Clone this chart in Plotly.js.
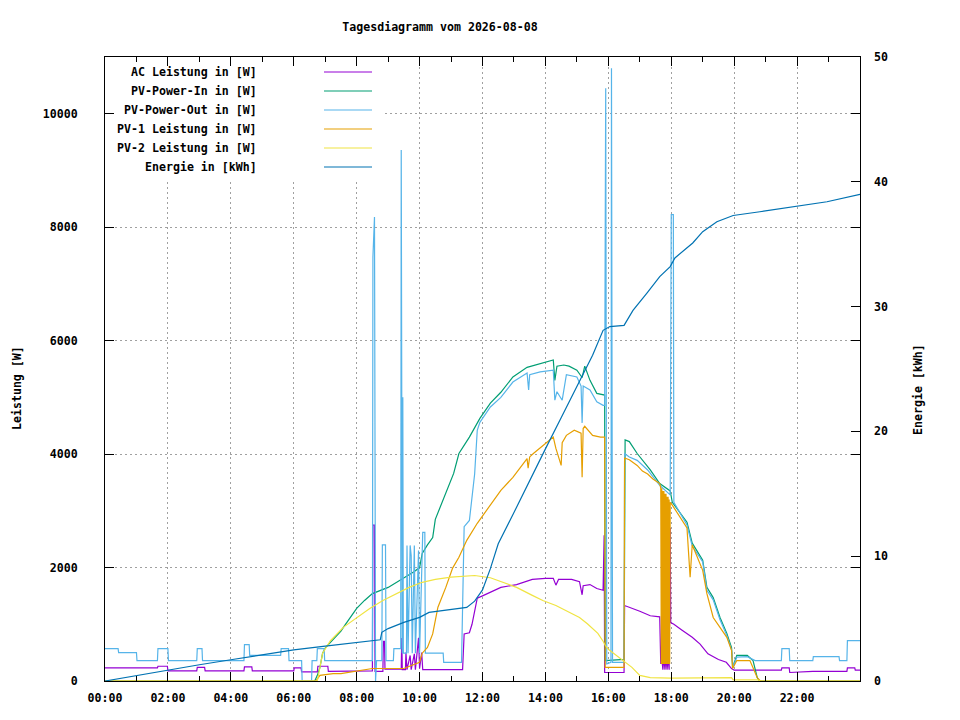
<!DOCTYPE html>
<html>
<head>
<meta charset="utf-8">
<script src="https://cdn.plot.ly/plotly-3.0.1.min.js"></script>
<style>
  html, body { margin: 0; padding: 0; background: #fff; }
  #chart { width: 960px; height: 720px; }
</style>
</head>
<body>
<div id="chart"></div>
<script>
const DAY = "2026-08-08";
const NEXT_DAY = "2026-08-09";

// [time, W]
const acPower = [
  ["00:00", 230], ["01:40", 230], ["01:41", 260], ["01:59", 260], ["02:00", 180],
  ["02:55", 180], ["02:56", 240], ["03:10", 240], ["03:11", 180], ["04:25", 180],
  ["04:26", 250], ["04:40", 250], ["04:41", 180], ["06:00", 180], ["06:01", 230],
  ["06:14", 230], ["06:15", 160], ["06:45", 160], ["06:46", 260], ["07:05", 260],
  ["07:06", 170], ["08:30", 180], ["08:31", 2750], ["08:34", 2750], ["08:35", 170],
  ["08:50", 170], ["08:51", 700], ["08:53", 700], ["08:54", 210], ["09:25", 210],
  ["09:26", 760], ["09:27", 200], ["09:33", 200], ["09:34", 500], ["09:36", 200],
  ["09:42", 450], ["09:44", 200], ["09:50", 480], ["09:52", 200], ["09:58", 760],
  ["10:00", 220], ["10:04", 500], ["10:06", 200], ["11:22", 200], ["11:25", 830],
  ["11:35", 850], ["11:40", 1000], ["11:45", 1240], ["11:50", 1460], ["12:00", 1500],
  ["12:15", 1560], ["12:35", 1650], ["13:05", 1700], ["13:35", 1790], ["14:00", 1810],
  ["14:15", 1810], ["14:20", 1690], ["14:25", 1790], ["14:50", 1790], ["15:05", 1750],
  ["15:10", 1520], ["15:12", 1680], ["15:25", 1700], ["15:38", 1630], ["15:50", 1600],
  ["15:52", 2570], ["15:53", 150], ["16:30", 150], ["16:31", 1330], ["16:40", 1300],
  ["17:00", 1230], ["17:20", 1150], ["17:38", 1130], ["17:40", 300], ["17:42", 400],
  ["17:44", 200], ["17:46", 400], ["17:48", 200], ["17:50", 400], ["17:52", 200],
  ["17:54", 400], ["17:56", 200], ["17:58", 2700], ["17:59", 1030], ["18:05", 1000],
  ["18:20", 900], ["18:40", 770], ["18:55", 650], ["19:10", 480], ["19:30", 380],
  ["19:45", 330], ["19:55", 220], ["20:00", 190], ["21:30", 190], ["21:31", 230],
  ["21:45", 230], ["21:46", 150], ["22:30", 170], ["23:35", 170], ["23:36", 230],
  ["23:50", 230], ["23:51", 190], ["24:00", 190]
];

const pvPowerIn = [
  ["00:00", 0], ["06:40", 0], ["06:45", 100], ["06:50", 240], ["06:55", 490],
  ["07:00", 580], ["07:10", 680], ["07:30", 880], ["07:35", 950], ["08:00", 1280],
  ["08:15", 1420], ["08:30", 1540], ["09:00", 1650], ["09:20", 1760], ["09:30", 1830],
  ["09:50", 1930], ["10:00", 2000], ["10:05", 2250], ["10:15", 2400], ["10:25", 2530],
  ["10:30", 2850], ["10:45", 3200], ["10:50", 3320], ["11:00", 3540], ["11:05", 3660],
  ["11:15", 4010], ["11:35", 4300], ["11:55", 4630], ["12:15", 4900], ["12:35", 5090],
  ["12:58", 5360], ["13:25", 5530], ["13:50", 5600], ["14:15", 5660], ["14:18", 5300],
  ["14:22", 5550], ["14:35", 5570], ["14:45", 5550], ["15:00", 5480], ["15:10", 5350],
  ["15:15", 5550], ["15:25", 5300], ["15:38", 5070], ["15:50", 5040], ["15:53", 5040],
  ["15:54", 360], ["16:30", 380], ["16:32", 4250], ["16:40", 4220], ["16:55", 4010],
  ["17:05", 3900], ["17:20", 3720], ["17:38", 3480], ["17:50", 3400], ["17:58", 3350],
  ["18:02", 3150], ["18:30", 2800], ["18:40", 2430], ["19:00", 2130], ["19:08", 1650],
  ["19:20", 1470], ["19:33", 1120], ["19:46", 840], ["19:55", 590], ["19:57", 240],
  ["20:05", 450], ["20:25", 450], ["20:36", 360], ["20:44", 60], ["20:48", 0],
  ["24:00", 0]
];

const pvPowerOut = [
  ["00:00", 570], ["00:25", 570], ["00:26", 500], ["01:00", 500], ["01:01", 360],
  ["01:40", 360], ["01:41", 570], ["02:00", 570], ["02:01", 360], ["02:55", 360],
  ["02:56", 570], ["03:05", 570], ["03:06", 360], ["04:25", 360], ["04:26", 640],
  ["04:35", 640], ["04:36", 450], ["05:35", 450], ["05:36", 570], ["05:50", 570],
  ["05:51", 360], ["06:15", 360], ["06:16", 0], ["06:34", 0], ["06:35", 360],
  ["06:44", 360], ["06:45", 570], ["06:58", 570], ["06:59", 360], ["08:30", 360],
  ["08:31", 7470], ["08:34", 8180], ["08:36", 0], ["08:38", 360], ["08:48", 360],
  ["08:49", 2400], ["08:55", 2400], ["08:56", 360], ["09:10", 360], ["09:11", 570],
  ["09:24", 570], ["09:25", 9360], ["09:27", 490], ["09:28", 5000], ["09:29", 490],
  ["09:35", 490], ["09:36", 2390], ["09:38", 490], ["09:42", 2390], ["09:44", 2210],
  ["09:46", 490], ["09:50", 2390], ["09:52", 490], ["09:58", 2300], ["10:00", 490],
  ["10:06", 2620], ["10:10", 2620], ["10:11", 490], ["10:45", 490], ["10:46", 330],
  ["11:20", 330], ["11:25", 2720], ["11:35", 2830], ["11:45", 3650], ["11:50", 4420],
  ["11:55", 4560], ["12:15", 4830], ["12:35", 5000], ["12:58", 5270], ["13:25", 5430],
  ["13:28", 5130], ["13:30", 5400], ["13:50", 5450], ["14:15", 5480], ["14:18", 4950],
  ["14:22", 5100], ["14:32", 4950], ["14:40", 5400], ["15:00", 5360], ["15:08", 5200],
  ["15:10", 4550], ["15:12", 5200], ["15:25", 5130], ["15:38", 4920], ["15:50", 4860],
  ["15:53", 4860], ["15:55", 10450], ["15:57", 300], ["16:05", 330], ["16:06", 10800],
  ["16:08", 330], ["16:30", 330], ["16:31", 4010], ["16:40", 3950], ["16:55", 3890],
  ["17:15", 3720], ["17:38", 3450], ["17:50", 3350], ["17:58", 3280], ["18:00", 8220],
  ["18:04", 8220], ["18:05", 3150], ["18:30", 2750], ["18:40", 2380], ["19:00", 2100],
  ["19:08", 1600], ["19:20", 1430], ["19:33", 1080], ["19:46", 800], ["19:55", 550],
  ["19:58", 240], ["20:05", 420], ["20:25", 430], ["20:40", 360], ["21:30", 360],
  ["21:31", 570], ["21:45", 570], ["21:46", 360], ["22:30", 360], ["22:31", 430],
  ["23:20", 430], ["23:21", 360], ["23:35", 360], ["23:36", 710], ["24:00", 710]
];

const pv1Power = [
  ["00:00", 0], ["06:42", 0], ["06:50", 100], ["07:15", 130], ["07:30", 130],
  ["08:00", 180], ["08:30", 220], ["09:30", 220], ["10:00", 330], ["10:05", 490],
  ["10:15", 590], ["10:25", 830], ["10:35", 1300], ["10:50", 1650], ["11:03", 1990],
  ["11:15", 2180], ["11:30", 2480], ["11:50", 2780], ["12:15", 3090], ["12:35", 3360],
  ["12:58", 3590], ["13:25", 3920], ["13:27", 3750], ["13:30", 3950], ["13:37", 4010],
  ["14:03", 4210], ["14:15", 4300], ["14:20", 4100], ["14:30", 3800], ["14:32", 4200],
  ["14:40", 4330], ["14:55", 4420], ["15:08", 4370], ["15:10", 3590], ["15:12", 4450],
  ["15:15", 4490], ["15:30", 4330], ["15:45", 4300], ["15:53", 4300], ["15:54", 240],
  ["16:30", 240], ["16:31", 3930], ["16:40", 3900], ["16:55", 3800], ["17:05", 3700],
  ["17:15", 3650], ["17:25", 3560], ["17:38", 3480], ["17:40", 3400], ["17:41", 300],
  ["17:42", 3400], ["17:43", 300], ["17:44", 3350], ["17:45", 300], ["17:46", 3350],
  ["17:47", 300], ["17:48", 3300], ["17:49", 300], ["17:50", 3300], ["17:51", 300],
  ["17:52", 3250], ["17:53", 300], ["17:54", 3250], ["17:55", 300], ["17:56", 3200],
  ["17:57", 300], ["17:58", 3150], ["18:02", 3100], ["18:30", 2700], ["18:36", 1830],
  ["18:40", 2400], ["19:00", 1950], ["19:08", 1540], ["19:20", 1120], ["19:33", 950],
  ["19:46", 770], ["19:55", 540], ["19:57", 220], ["20:05", 360], ["20:30", 360],
  ["20:44", 60], ["20:50", 0], ["24:00", 0]
];

const pv2Power = [
  ["00:00", 0], ["06:45", 0], ["06:55", 490], ["07:10", 710], ["07:35", 950],
  ["08:00", 1120], ["08:25", 1280], ["08:50", 1420], ["09:15", 1540], ["09:40", 1650],
  ["10:05", 1740], ["10:30", 1790], ["11:00", 1830], ["11:25", 1850], ["11:45", 1860],
  ["12:15", 1820], ["12:45", 1720], ["13:05", 1650], ["13:35", 1510], ["13:55", 1420],
  ["14:20", 1330], ["14:45", 1210], ["15:05", 1120], ["15:20", 1010], ["15:40", 840],
  ["15:50", 700], ["15:54", 630], ["16:00", 560], ["16:15", 450], ["16:32", 330],
  ["16:45", 240], ["17:00", 100], ["17:20", 60], ["18:00", 50], ["19:00", 60],
  ["19:55", 60], ["19:58", 20], ["20:45", 20], ["20:50", 0], ["24:00", 0]
];

// [time, kWh]
const energy = [
  ["00:00", 0], ["01:00", 0.45], ["02:00", 0.9], ["03:00", 1.3], ["04:00", 1.7],
  ["05:00", 2.1], ["06:00", 2.5], ["07:00", 2.8], ["08:00", 3.1], ["08:45", 3.3],
  ["08:48", 3.9], ["09:00", 4.2], ["09:30", 4.7], ["10:00", 5.1], ["10:18", 5.5],
  ["11:00", 5.7], ["11:30", 5.9], ["11:45", 6.4], ["12:00", 7.3], ["12:15", 9.0],
  ["12:30", 11.0], ["13:00", 13.5], ["13:30", 16.1], ["14:00", 18.6], ["14:30", 21.1],
  ["15:00", 23.6], ["15:30", 26.1], ["15:50", 28.1], ["16:03", 28.4], ["16:30", 28.5],
  ["16:47", 29.7], ["17:14", 31.1], ["17:38", 32.4], ["17:58", 33.2], ["18:07", 33.9],
  ["18:41", 35.1], ["19:00", 36.0], ["19:27", 36.8], ["19:58", 37.3], ["20:49", 37.6],
  ["21:52", 38.0], ["22:57", 38.4], ["24:00", 39.0]
];

const seriesNames = [
  "AC Leistung in [W]",
  "PV-Power-In in [W]",
  "PV-Power-Out in [W]",
  "PV-1 Leistung in [W]",
  "PV-2 Leistung in [W]",
  "Energie in [kWh]"
];
const seriesColors = ["#9400d3", "#009e73", "#56b4e9", "#e69f00", "#f0e442", "#0072b2"];
const seriesData = [acPower, pvPowerIn, pvPowerOut, pv1Power, pv2Power, energy];
const hourLabels = ["00:00", "02:00", "04:00", "06:00", "08:00", "10:00",
  "12:00", "14:00", "16:00", "18:00", "20:00", "22:00"];

function toDate(hhmm) {
  if (hhmm === "24:00") {
    return `${NEXT_DAY} 00:00`;
  }
  return `${DAY} ${hhmm}`;
}

const font = { family: "DejaVu Sans Mono, monospace", size: 11.6, color: "#000", weight: "bold" };

const traces = seriesData.map((points, i) => ({
  type: "scatter",
  mode: "lines",
  name: seriesNames[i],
  x: points.map((p) => toDate(p[0])),
  y: points.map((p) => p[1]),
  yaxis: i === 5 ? "y2" : "y",
  line: { color: seriesColors[i], width: 1.2 },
  hoverinfo: "skip",
}));

// plot box in pixels: x 105..860, y 57..681
const boxLeft = 105, boxWidth = 755, boxTop = 57, boxHeight = 624;
const px = (x) => (x - boxLeft) / boxWidth;
const py = (y) => (boxTop + boxHeight - y) / boxHeight;

// opaque key box, kept clear of the border ticks
const shapes = [{
  type: "rect", xref: "paper", yref: "paper",
  x0: px(115), x1: px(382), y0: py(179), y1: py(67),
  fillcolor: "#fff", line: { width: 0 }, layer: "above",
}];
const annotations = [];
seriesNames.forEach((name, i) => {
  const rowY = py(72 + 19 * i);
  shapes.push({
    type: "line", xref: "paper", yref: "paper",
    x0: px(324), x1: px(372), y0: rowY, y1: rowY,
    line: { color: seriesColors[i], width: 1.2 },
    layer: "above",
  });
  annotations.push({
    xref: "paper", yref: "paper", x: px(259), y: rowY,
    xanchor: "right", yanchor: "middle", showarrow: false,
    text: name, font,
  });
});
annotations.push({
  xref: "paper", yref: "paper", x: px(17), y: py(388),
  xanchor: "center", yanchor: "middle", showarrow: false,
  textangle: -90, text: "Leistung [W]", font,
});
annotations.push({
  xref: "paper", yref: "paper", x: px(918), y: py(390),
  xanchor: "center", yanchor: "middle", showarrow: false,
  textangle: -90, text: "Energie [kWh]", font,
});

const gridStyle = { gridcolor: "#a0a0a0", griddash: "2px,3px", gridwidth: 1 };

const layout = {
  width: 960,
  height: 720,
  margin: { l: 105, r: 100, t: 57, b: 39 },
  paper_bgcolor: "#fff",
  plot_bgcolor: "#fff",
  showlegend: false,
  font,
  title: {
    text: "Tagesdiagramm vom 2026-08-08",
    font,
    xref: "container", yref: "container",
    x: 440 / 960, y: 1 - 27 / 720,
    xanchor: "center", yanchor: "middle",
  },
  xaxis: {
    type: "date",
    range: [`${DAY} 00:00`, `${DAY} 23:59:59.9`],
    tickmode: "array",
    tickvals: hourLabels.map(toDate),
    ticktext: hourLabels,
    ticks: "inside",
    ticklen: 9,
    tickcolor: "#000",
    ticklabelstandoff: 6,
    minor: { dtick: 3600000, tick0: `${DAY} 00:00`, ticks: "inside", ticklen: 5, tickcolor: "#000", showgrid: false },
    showline: true,
    linecolor: "#000",
    linewidth: 1,
    mirror: "ticks",
    showgrid: true,
    ...gridStyle,
    zeroline: false,
    tickfont: font,
  },
  yaxis: {
    range: [0, 11000],
    tickmode: "linear",
    tick0: 0,
    dtick: 2000,
    tickformat: "d",
    ticks: "inside",
    ticklen: 9,
    tickcolor: "#000",
    ticklabelstandoff: 24,
    showline: true,
    linecolor: "#000",
    linewidth: 1,
    mirror: "ticks",
    showgrid: true,
    ...gridStyle,
    zeroline: false,
    tickfont: font,
  },
  yaxis2: {
    overlaying: "y",
    side: "right",
    range: [0, 50],
    tickmode: "linear",
    tick0: 0,
    dtick: 10,
    ticks: "inside",
    ticklen: 9,
    tickcolor: "#000",
    ticklabelstandoff: 13,
    showline: false,
    showgrid: false,
    zeroline: false,
    tickfont: font,
  },
  shapes,
  annotations,
};

Plotly.newPlot("chart", traces, layout, { staticPlot: true, displayModeBar: false });
</script>
</body>
</html>
